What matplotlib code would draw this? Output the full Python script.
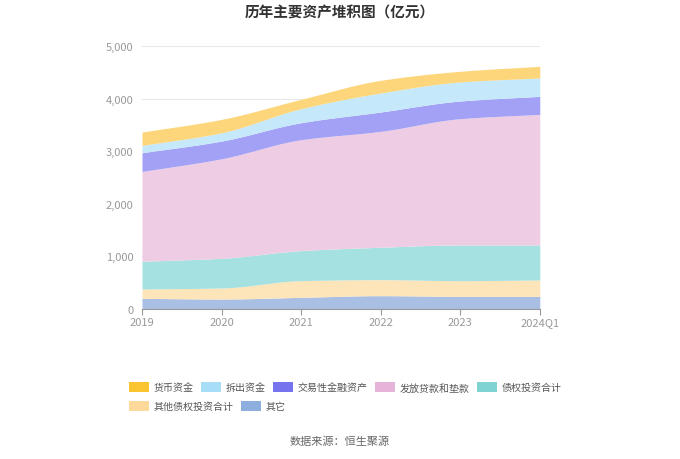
import numpy as np
import matplotlib
matplotlib.use("Agg")
import matplotlib.pyplot as plt
from matplotlib.patches import Patch

plt.rcParams['font.family'] = ['Noto Sans CJK SC', 'DejaVu Sans']

years = ['2019', '2020', '2021', '2022', '2023', '2024Q1']

# stacked from bottom to top
other = [203, 190, 222, 254, 241, 241]
other_debt_inv = [178, 210, 317, 304, 298, 311]
debt_inv = [526, 564, 571, 616, 679, 666]
loans = [1707, 1891, 2107, 2202, 2399, 2481]
trading_assets = [356, 337, 324, 368, 336, 343]
interbank_lending = [139, 158, 266, 361, 362, 349]
cash = [254, 254, 178, 241, 203, 222]

series = [
    ('其它', other, '#8eaedd', '#a9bfe4'),
    ('其他债权投资合计', other_debt_inv, '#fdd99c', '#fde4b9'),
    ('债权投资合计', debt_inv, '#7fd3d1', '#a6e1e1'),
    ('发放贷款和垫款', loans, '#e6b4d8', '#eecde4'),
    ('交易性金融资产', trading_assets, '#7673ee', '#a3a1f5'),
    ('拆出资金', interbank_lending, '#a8ddf8', '#c5e9fa'),
    ('货币资金', cash, '#fbc531', '#fdd67b'),
]


def smooth(x, y, n=200):
    """monotone cubic (Fritsch-Carlson) for a soft curve"""
    x = np.asarray(x, float)
    y = np.asarray(y, float)
    h = np.diff(x)
    d = np.diff(y) / h
    m = np.zeros_like(y)
    m[0], m[-1] = d[0], d[-1]
    for i in range(1, len(y) - 1):
        if d[i - 1] * d[i] <= 0:
            m[i] = 0
        else:
            m[i] = 2 / (1 / d[i - 1] + 1 / d[i])
    xs = np.linspace(x[0], x[-1], n)
    idx = np.clip(np.searchsorted(x, xs) - 1, 0, len(x) - 2)
    t = (xs - x[idx]) / h[idx]
    h00 = 2 * t**3 - 3 * t**2 + 1
    h10 = t**3 - 2 * t**2 + t
    h01 = -2 * t**3 + 3 * t**2
    h11 = t**3 - t**2
    ys = h00 * y[idx] + h10 * h[idx] * m[idx] + h01 * y[idx + 1] + h11 * h[idx] * m[idx + 1]
    return xs, ys


fig = plt.figure(figsize=(6.8, 4.6), dpi=100)
ax = fig.add_axes([0.2088, 0.326, 0.585, 0.572])

x = np.arange(len(years))
base = np.zeros(len(years))
prev = None
for name, vals, lc, fc in series:
    top = base + np.array(vals)
    xs, ys_top = smooth(x, top)
    ys_base = np.zeros_like(xs) if prev is None else prev
    ax.fill_between(xs, ys_base, ys_top, color=fc, linewidth=0)
    prev = ys_top
    base = top

ax.set_xlim(0, len(years) - 1)
ax.set_ylim(0, 5000)
ax.set_yticks(range(0, 5001, 1000))
ax.set_yticklabels([f'{v:,}' for v in range(0, 5001, 1000)])
ax.set_xticks(x)
ax.set_xticklabels(years)
ax.grid(axis='y', color='#e8e8e8', linewidth=0.8)
ax.set_axisbelow(True)
for s in ['top', 'right', 'left']:
    ax.spines[s].set_visible(False)
ax.spines['bottom'].set_color('#999999')
ax.tick_params(axis='y', length=0, labelsize=8, colors='#999999', pad=6)
ax.tick_params(axis='x', length=4, color='#999999', labelsize=8, colors='#999999', pad=2)

fig.text(0.5, 0.972, '历年主要资产堆积图（亿元）', ha='center', va='center',
         fontsize=10.5, fontweight='bold', color='#333333')

legend_order = [6, 5, 4, 3, 2, 1, 0]
handles = [Patch(facecolor=series[i][2], edgecolor='none') for i in legend_order]
labels = [series[i][0] for i in legend_order]
leg_kw = dict(loc='upper left', frameon=False, fontsize=7.2, handlelength=2.0,
              handleheight=1.1, columnspacing=0.8, handletextpad=0.4,
              labelcolor='#555555', borderpad=0)
fig.legend(handles[:5], labels[:5], bbox_to_anchor=(0.183, 0.178), ncol=5, **leg_kw)
fig.legend(handles[5:], labels[5:], bbox_to_anchor=(0.183, 0.137), ncol=2, **leg_kw)

fig.text(0.5, 0.04, '数据来源：恒生聚源', ha='center', va='center', fontsize=8, color='#666666')

fig.savefig('out.png', dpi=100)
